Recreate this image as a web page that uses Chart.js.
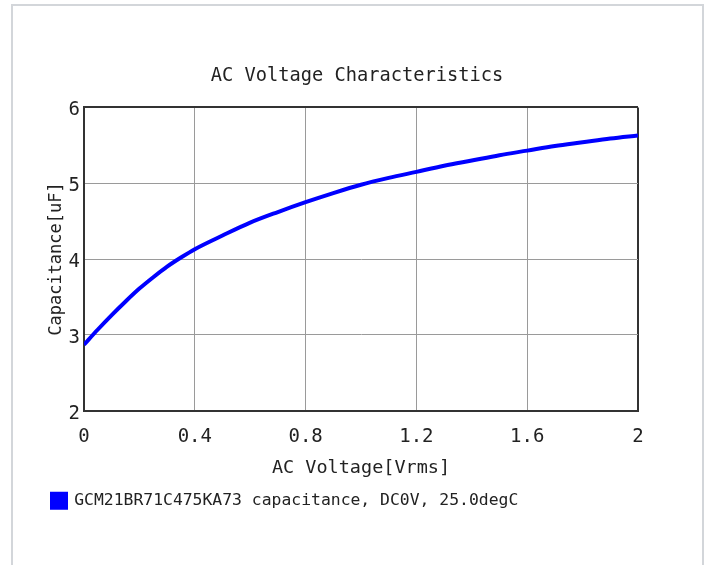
<!DOCTYPE html>
<html>
<head>
<meta charset="utf-8">
<title>AC Voltage Characteristics</title>
<script src="https://cdn.jsdelivr.net/npm/chart.js@4"></script>
<style>
    html, body { margin: 0; padding: 0; background: #ffffff; }
    #moldura {
        position: absolute; left: 11px; top: 4px; width: 689px; height: 600px;
        border: 2px solid #d3d6da; border-bottom: none;
    }
    #grafico { position: absolute; left: 0; top: 0; }
</style>
</head>
<body>
<div id="moldura"></div>
<canvas id="grafico" width="709" height="565"></canvas>
<script>
// Dados
const tensao = [0, 0.05, 0.1, 0.15, 0.2, 0.25, 0.3, 0.35, 0.4, 0.5, 0.6, 0.7, 0.8, 0.9, 1.0,
                1.1, 1.2, 1.3, 1.4, 1.5, 1.6, 1.7, 1.8, 1.9, 2.0];
const capacitancia = [2.87, 3.07, 3.26, 3.44, 3.61, 3.76, 3.9, 4.02, 4.13, 4.31, 4.48, 4.62, 4.75, 4.87, 4.98,
                      5.07, 5.15, 5.23, 5.3, 5.37, 5.43, 5.49, 5.54, 5.59, 5.63];
const nomeSerie = 'GCM21BR71C475KA73 capacitance, DC0V, 25.0degC';
const tituloGrafico = 'AC Voltage Characteristics';
const tituloX = 'AC Voltage[Vrms]';
const tituloY = 'Capacitance[uF]';

const fonte = "'DejaVu Sans Mono', monospace";
const corTexto = '#222222';

// cor da grade: borda escura no topo e na direita
const corGrade = (max) => (ctx) => (ctx.tick && ctx.tick.value === max) ? '#333333' : '#9a9a9a';
const larguraGrade = (max) => (ctx) => (ctx.tick && ctx.tick.value === max) ? 2 : 1;

new Chart(document.getElementById('grafico').getContext('2d'), {
    type: 'line',
    data: {
        datasets: [{
            label: nomeSerie,
            data: tensao.map((v, i) => ({ x: v, y: capacitancia[i] })),
            borderColor: '#0000ff',
            backgroundColor: '#0000ff',
            borderWidth: 4,
            pointRadius: 0,
            cubicInterpolationMode: 'monotone',
            fill: false
        }]
    },
    options: {
        responsive: false,
        animation: false,
        devicePixelRatio: 1,
        layout: { padding: { left: 42, right: 37, top: 0, bottom: 46 } },
        plugins: {
            title: {
                display: true,
                text: tituloGrafico,
                color: corTexto,
                font: { family: fonte, size: 18.7, weight: 'normal' },
                padding: { top: 65, bottom: 20 }
            },
            legend: {
                position: 'bottom',
                align: 'start',
                labels: {
                    color: corTexto,
                    boxWidth: 14,
                    boxHeight: 14,
                    padding: 10,
                    font: { family: fonte, size: 16.4 }
                }
            },
            tooltip: { enabled: false }
        },
        scales: {
            x: {
                type: 'linear',
                min: 0,
                max: 2,
                afterFit: (escala) => { escala.height = 72; },
                ticks: {
                    stepSize: 0.4,
                    color: corTexto,
                    padding: 15,
                    maxRotation: 0,
                    font: { family: fonte, size: 19 },
                    callback: (v) => Number(v.toFixed(1)).toString()
                },
                grid: { color: corGrade(2), lineWidth: larguraGrade(2), drawTicks: false },
                border: { color: '#333333', width: 2 },
                title: {
                    display: true,
                    text: tituloX,
                    color: corTexto,
                    font: { family: fonte, size: 18.5 },
                    padding: { top: 0, bottom: 3 }
                }
            },
            y: {
                min: 2,
                max: 6,
                afterFit: (escala) => { escala.width = 42; },
                ticks: {
                    stepSize: 1,
                    color: corTexto,
                    padding: 4,
                    labelOffset: 3,
                    font: { family: fonte, size: 19 }
                },
                grid: { color: corGrade(6), lineWidth: larguraGrade(6), drawTicks: false },
                border: { color: '#333333', width: 2 },
                title: {
                    display: true,
                    text: tituloY,
                    color: corTexto,
                    font: { family: fonte, size: 17 },
                    padding: { top: 4, bottom: 0 }
                }
            },
            // eixo vazio à direita, só para centralizar o título como no original
            yDireita: {
                position: 'right',
                min: 2,
                max: 6,
                afterFit: (escala) => { escala.width = 34; },
                ticks: { display: false },
                grid: { drawOnChartArea: false, drawTicks: false },
                border: { display: false }
            }
        }
    }
});
</script>
</body>
</html>
